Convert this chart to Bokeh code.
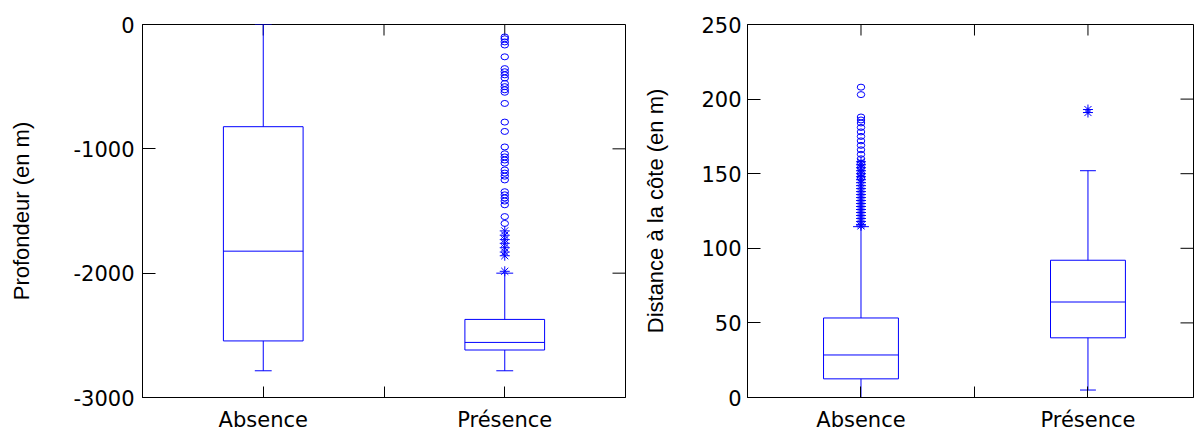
import math

from bokeh.plotting import figure
from bokeh.models import FixedTicker, Range1d
from bokeh.layouts import row
from bokeh.embed import file_html
from bokeh.resources import INLINE

BLUE = "#0000FF"

groups = ["Absence", "Présence"]
group_x = [1, 2]

# Profondeur (en m): box summaries per group
depth_low = [-2785, -2785]
depth_q1 = [-2545, -2618]
depth_median = [-1823, -2557]
depth_q3 = [-822, -2372]
depth_high = [0, -2000]
depth_circles_presence = [-100, -115, -140, -165, -260, -355, -380, -405, -430,
                          -475, -500, -525, -545, -635, -785, -860, -985, -1040,
                          -1065, -1090, -1115, -1170, -1195, -1220, -1250, -1345,
                          -1370, -1395, -1420, -1450, -1545, -1600]
depth_stars_presence = [-1660, -1695, -1730, -1760, -1795, -1830, -1860, -1985]

# Distance à la côte (en m): box summaries per group
dist_low = [0, 5]
dist_q1 = [12.5, 40]
dist_median = [28.5, 64]
dist_q3 = [53.3, 92]
dist_high = [114.5, 152]
dist_circles_absence = [208, 203, 188, 186, 184, 181, 178, 175, 172, 169, 166,
                        163, 160, 157, 154, 150, 147]
dist_stars_absence = [158, 156, 154, 152, 150, 148, 146, 144, 142, 140, 138, 136,
                      134, 132, 130, 128, 126, 124, 122, 120, 118, 116, 115]
dist_stars_presence = [193, 191]

depth_ticks = [-3000, -2000, -1000, 0]
dist_ticks = [0, 50, 100, 150, 200, 250]
x_ticks = [1, 1.5, 2]

BOX_HALF = 0.165
CAP_HALF = 0.035
TICK_FONT = "DejaVu Sans"
TICK_SIZE = "21px"
X_TICK_LEN = 11
Y_TICK_LEN = 13


def style_axis(ax, tick_len):
    ax.major_tick_in = tick_len
    ax.major_tick_out = 0
    ax.minor_tick_line_color = None
    ax.axis_line_color = "black"
    ax.major_tick_line_color = "black"
    ax.major_label_text_font = TICK_FONT
    ax.major_label_text_font_size = TICK_SIZE
    ax.major_label_text_color = "black"


def make_panel(width, border_left, border_right, x_end, y_lo, y_hi, yticks,
               ylabel, label_standoff, tick_standoff,
               low, q1, med, q3, high):
    p = figure(width=width, height=434, output_backend="svg", toolbar_location=None,
               x_range=Range1d(0.5, x_end), y_range=Range1d(y_lo, y_hi),
               min_border_left=border_left, min_border_right=border_right,
               min_border_top=24, min_border_bottom=36)
    p.xgrid.visible = False
    p.ygrid.visible = False
    p.outline_line_color = "black"
    p.background_fill_color = "white"

    xa = p.xaxis[0]
    xa.ticker = FixedTicker(ticks=x_ticks)
    xa.major_label_overrides = {1: groups[0], 1.5: "", 2: groups[1]}
    xa.major_label_standoff = 10
    style_axis(xa, X_TICK_LEN)

    ya = p.yaxis[0]
    ya.ticker = FixedTicker(ticks=yticks)
    ya.major_label_overrides = {t: str(t) for t in yticks}
    ya.major_label_standoff = tick_standoff
    ya.axis_label = ylabel
    ya.axis_label_text_font = "Liberation Sans"
    ya.axis_label_text_font_size = "22px"
    ya.axis_label_text_font_style = "normal"
    ya.axis_label_text_color = "black"
    ya.axis_label_standoff = label_standoff
    style_axis(ya, Y_TICK_LEN)

    # mirrored inward ticks on the top and right edges of the frame
    p.ray(x=x_ticks, y=[y_hi] * len(x_ticks), length=X_TICK_LEN, length_units="screen",
          angle=-math.pi / 2, line_color="black", line_width=1)
    p.ray(x=[x_end] * len(yticks), y=yticks, length=Y_TICK_LEN, length_units="screen",
          angle=math.pi, line_color="black", line_width=1)

    left_edge = [x - BOX_HALF for x in group_x]
    right_edge = [x + BOX_HALF for x in group_x]
    cap_l = [x - CAP_HALF for x in group_x]
    cap_r = [x + CAP_HALF for x in group_x]

    p.quad(left=left_edge, right=right_edge, bottom=q1, top=q3,
           fill_color=None, line_color=BLUE, line_width=1)
    p.segment(x0=left_edge, x1=right_edge, y0=med, y1=med, line_color=BLUE, line_width=1)
    p.segment(x0=group_x, x1=group_x, y0=q3, y1=high, line_color=BLUE, line_width=1)
    p.segment(x0=group_x, x1=group_x, y0=q1, y1=low, line_color=BLUE, line_width=1)
    p.segment(x0=cap_l, x1=cap_r, y0=high, y1=high, line_color=BLUE, line_width=1)
    p.segment(x0=cap_l, x1=cap_r, y0=low, y1=low, line_color=BLUE, line_width=1)
    return p


def add_circles(p, x, values):
    p.ellipse(x=[x] * len(values), y=values, width=7.5, height=6,
              width_units="screen", height_units="screen",
              fill_color=None, line_color=BLUE, line_width=1)


def add_stars(p, x, values):
    p.scatter(x=[x] * len(values), y=values, marker="asterisk", size=10,
              line_color=BLUE, line_width=1)


p1 = make_panel(640, 142, 15, 2.5, -3000, 0, depth_ticks, "Profondeur (en m)", 36, 8,
                depth_low, depth_q1, depth_median, depth_q3, depth_high)
add_circles(p1, group_x[1], depth_circles_presence)
add_stars(p1, group_x[1], depth_stars_presence)

p2 = make_panel(554, 103, 1, 2.465, 0, 250, dist_ticks, "Distance à la côte (en m)", 30, 6,
                dist_low, dist_q1, dist_median, dist_q3, dist_high)
add_circles(p2, group_x[0], dist_circles_absence)
add_stars(p2, group_x[0], dist_stars_absence)
add_stars(p2, group_x[1], dist_stars_presence)

layout = row(p1, p2)
open("out.html", "w").write(file_html(layout, INLINE))
